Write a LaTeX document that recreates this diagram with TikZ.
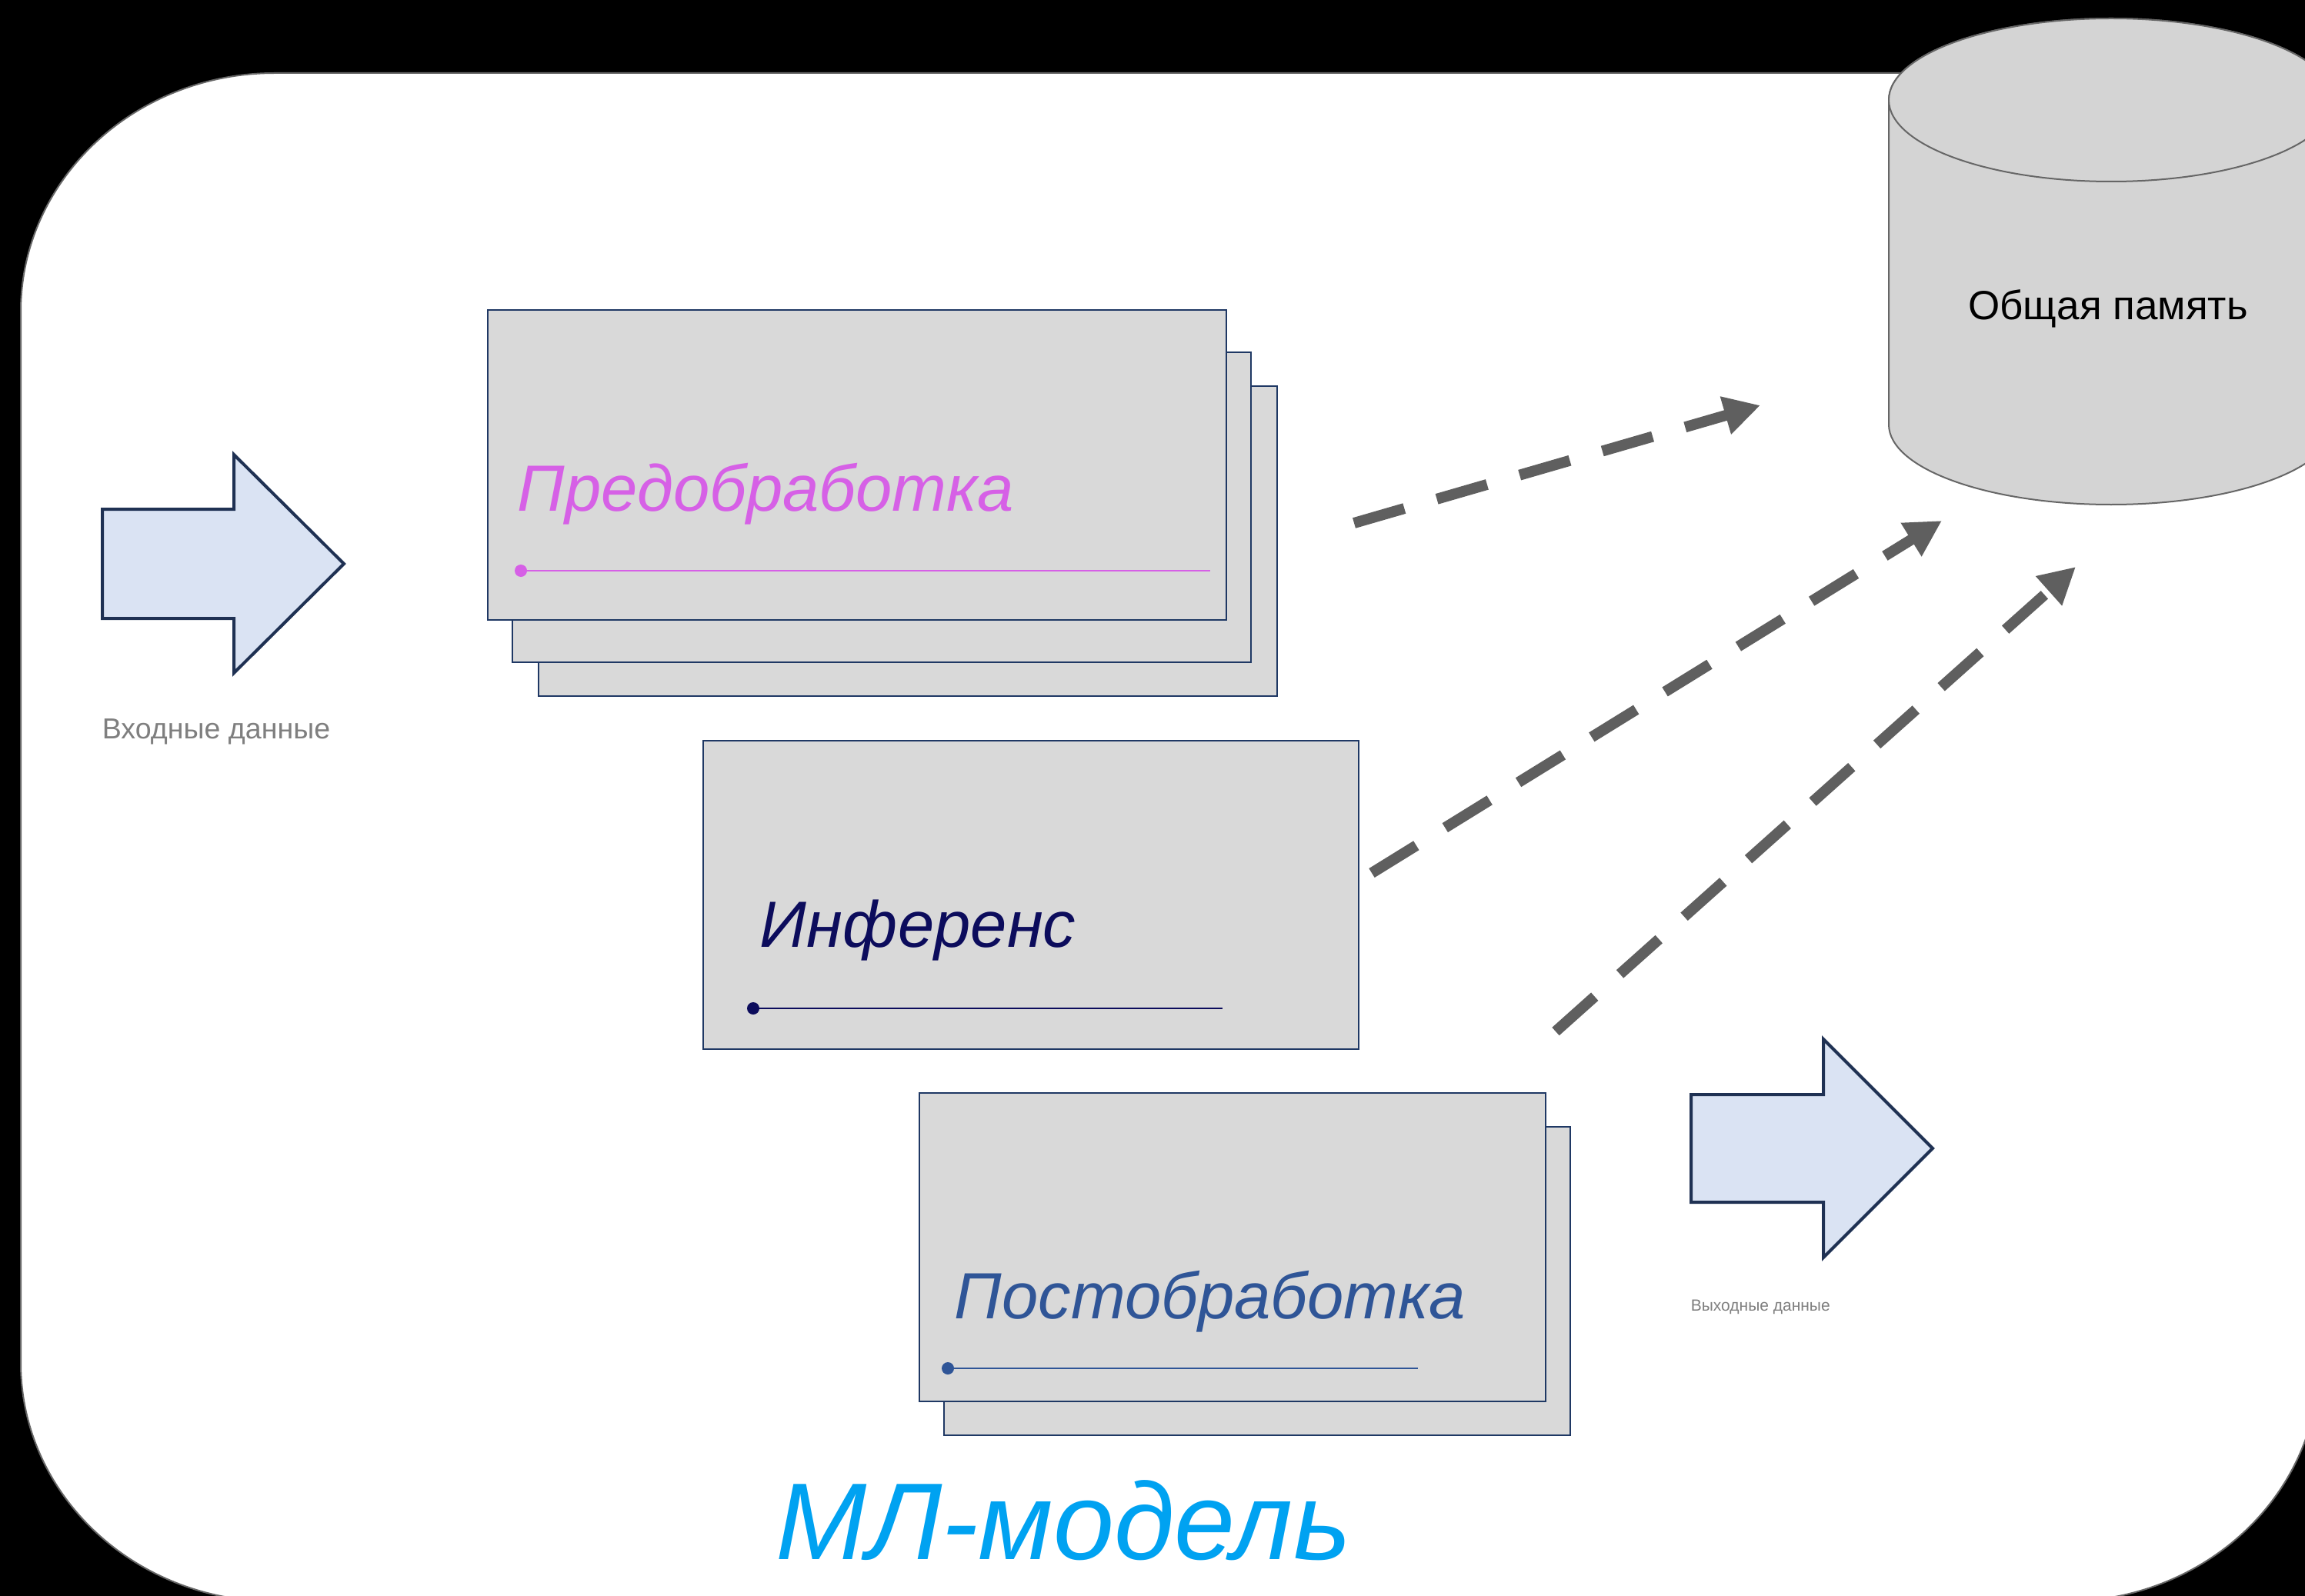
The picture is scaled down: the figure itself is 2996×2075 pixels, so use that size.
\documentclass[tikz,border=0pt]{standalone}
\usepackage{fontspec}
\setmainfont{Liberation Sans}
\usetikzlibrary{arrows.meta}
\definecolor{preC}{HTML}{D660E6}
\definecolor{infC}{HTML}{0C0C5C}
\definecolor{postC}{HTML}{2F5597}
\definecolor{boxFill}{HTML}{D9D9D9}
\definecolor{boxDraw}{HTML}{1F3864}
\definecolor{dashGrey}{HTML}{5F5F5F}
\definecolor{bigFill}{HTML}{DAE3F3}
\definecolor{bigDraw}{HTML}{1F3153}
\definecolor{labGrey}{HTML}{7F7F7F}
\definecolor{mlC}{HTML}{00A2F1}
\definecolor{cylFill}{HTML}{D4D4D4}
\definecolor{cylDraw}{HTML}{666666}
\newcommand\fsz[1]{\fontsize{#1}{#1}\selectfont}
\tikzset{
  stagebox/.style={draw=boxDraw, fill=boxFill, line width=0.5pt, inner sep=0pt, outer sep=0pt, anchor=north west},
  prebox/.style={stagebox, minimum width=240pt, minimum height=100.75pt},
  infbox/.style={stagebox, minimum width=213pt, minimum height=100.25pt},
  postbox/.style={stagebox, minimum width=203.5pt, minimum height=100.25pt},
  title/.style={anchor=base west, inner sep=0pt, font=\fsz{21.25pt}\itshape},
  uline/.style={line width=0.6pt},
  flow/.style={draw=dashGrey, line width=3.5pt, dash pattern=on 17pt off 11pt, -{Triangle[length=11.75pt, width=12pt]}},
  bigarrow/.style={fill=bigFill, draw=bigDraw, line width=1pt, line join=miter},
}
\begin{document}
\begin{tikzpicture}[x=0.25pt, y=-0.25pt]
\useasboundingbox (0,0) rectangle (2996,2075);
\clip (0,0) rectangle (2996,2075);
\fill[black] (0,0) rectangle (2996,2075);
% outer rounded panel
\path[fill=white, draw=cylDraw, line width=0.5pt]
  (27,1772) -- (27,405) arc[start angle=180, end angle=270, x radius=330, y radius=310]
  -- (2684,95) arc[start angle=270, end angle=360, x radius=330, y radius=310]
  -- (3014,1772) arc[start angle=0, end angle=90, x radius=330, y radius=310]
  -- (357,2082) arc[start angle=90, end angle=180, x radius=330, y radius=310] -- cycle;
% cylinder
\path[fill=cylFill, draw=cylDraw, line width=0.5pt]
  (2455,130) -- (2455,552) arc[start angle=180, end angle=0, x radius=289, y radius=104]
  -- (3033,130) arc[start angle=0, end angle=-180, x radius=289, y radius=106] -- cycle;
\path[fill=cylFill, draw=cylDraw, line width=0.5pt] (2744,130) ellipse[x radius=289, y radius=106];
\node[anchor=base, inner sep=0pt, font=\fsz{13.25pt}] (mem) at (2740,416) {Общая память};
% input arrow
\draw[bigarrow] (133,662) -- (304,662) -- (304,591) -- (447,733) -- (304,875) -- (304,804) -- (133,804) -- cycle;
\node[anchor=base west, inner sep=0pt, font=\fsz{9.4pt}, text=labGrey] (inlab) at (132,960) {Входные данные};
% output arrow
\draw[bigarrow] (2198,1423) -- (2370,1423) -- (2370,1351) -- (2512,1493) -- (2370,1635) -- (2370,1563) -- (2198,1563) -- cycle;
\node[anchor=base west, inner sep=0pt, font=\fsz{5.25pt}, text=labGrey] (outlab) at (2197,1704) {Выходные данные};
% preprocessing stack
\node[prebox] (pre3) at (700,502) {};
\node[prebox] (pre2) at (666,458) {};
\node[prebox] (pre1) at (634,403) {};
\node[title, text=preC] (pretxt) at (672,664) {Предобработка};
\coordinate (preL) at (677,742);
\coordinate (preR) at (1573,742);
\fill[preC] (preL) circle[radius=2pt];
\draw[uline, preC] (preL) -- (preR);
% inference
\node[infbox] (inf) at (914,963) {};
\node[title, text=infC] (inftxt) at (987,1231) {Инференс};
\coordinate (infL) at (979,1311);
\coordinate (infR) at (1589,1311);
\fill[infC] (infL) circle[radius=2pt];
\draw[uline, infC] (infL) -- (infR);
% postprocessing stack
\node[postbox] (post2) at (1227,1465) {};
\node[postbox] (post1) at (1195,1421) {};
\node[title, text=postC] (posttxt) at (1240,1714) {Постобработка};
\coordinate (postL) at (1232,1779);
\coordinate (postR) at (1843,1779);
\fill[postC] (postL) circle[radius=2pt];
\draw[uline, postC] (postL) -- (postR);
% dashed flows to memory
\coordinate (f1s) at (1760,680);
\coordinate (f1e) at (2288,527);
\coordinate (f2s) at (1783,1135);
\coordinate (f2e) at (2524,677);
\coordinate (f3s) at (2022,1341);
\coordinate (f3e) at (2698,737);
\draw[flow] (f1s) -- (f1e);
\draw[flow] (f2s) -- (f2e);
\draw[flow] (f3s) -- (f3e);
% title
\node[anchor=base west, inner sep=0pt, font=\fsz{35.5pt}\itshape, text=mlC] (ml) at (1008,2027) {МЛ-модель};
\end{tikzpicture}
\end{document}
